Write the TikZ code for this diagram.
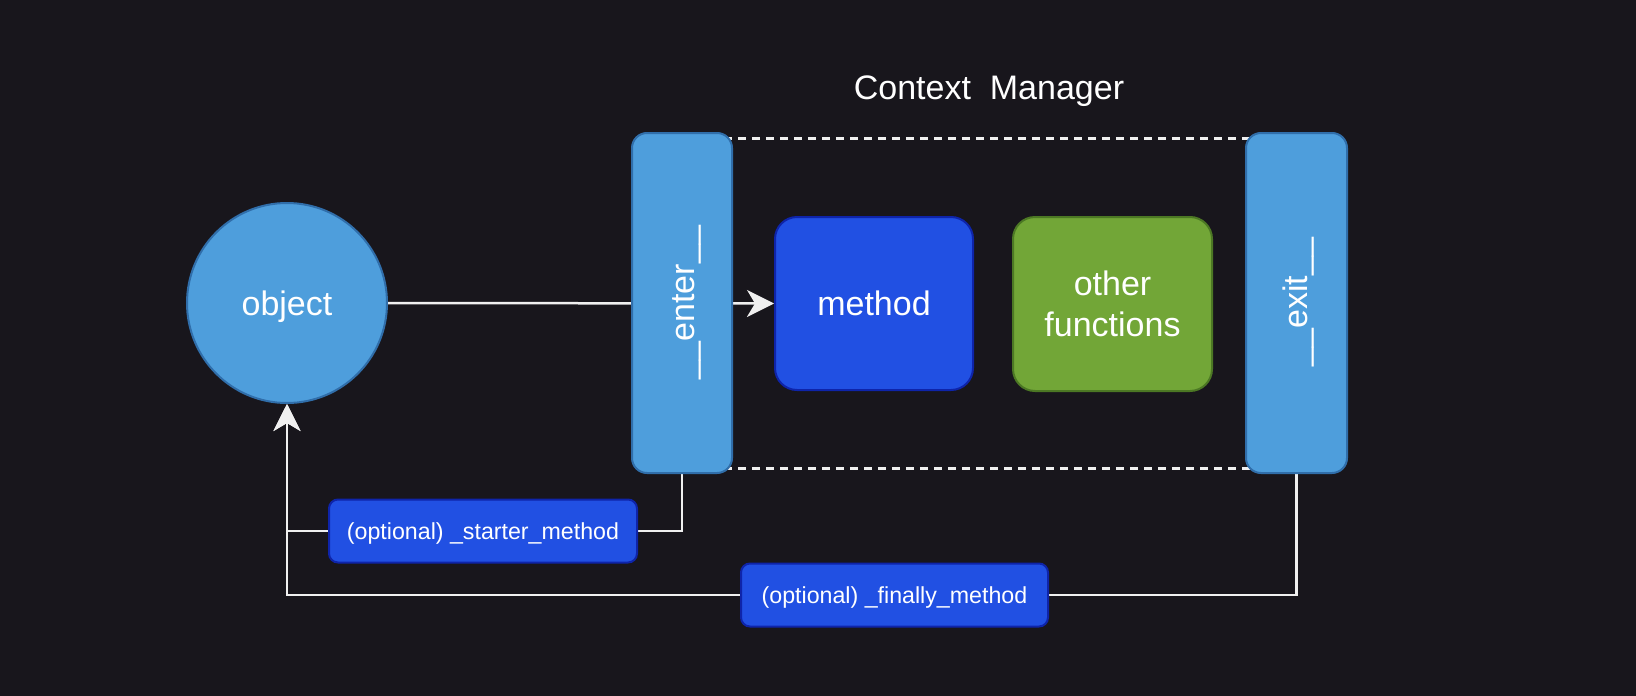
\documentclass[tikz,border=0pt]{standalone}
\usepackage{fontspec}
\setmainfont{Liberation Sans}
\usetikzlibrary{arrows.meta}
\pgfdeclarelayer{bg}
\pgfsetlayers{bg,main}
\newcommand\usc{\symbol{95}}
\definecolor{bgc}{RGB}{24,22,28}
\definecolor{lblue}{RGB}{78,158,220}
\definecolor{lblueb}{RGB}{48,110,170}
\definecolor{mblue}{RGB}{33,80,227}
\definecolor{mblueb}{RGB}{14,36,170}
\definecolor{gfill}{RGB}{114,166,55}
\definecolor{gborder}{RGB}{76,120,36}
\definecolor{wline}{RGB}{240,240,240}
\tikzset{
  bigtext/.style={font=\fontsize{34}{41}\selectfont, text=white, align=center},
  oneline/.style={text height=24.5pt, text depth=0pt},
  lbox/.style={draw=lblueb, fill=lblue, line width=2pt, inner sep=0pt, bigtext},
  mbox/.style={draw=mblueb, fill=mblue, line width=2pt, inner sep=0pt, rounded corners=22pt, bigtext},
  gbox/.style={draw=gborder, fill=gfill, line width=2pt, inner sep=0pt, rounded corners=22pt, bigtext},
  lab/.style={draw=mblueb, fill=mblue, line width=2pt, inner sep=0pt, rounded corners=9pt, text=white,
    font=\fontsize{23.2}{28}\selectfont, minimum height=63pt, text height=16.5pt, text depth=0pt},
  conn/.style={draw=wline, line width=2.5pt},
  tip/.style={-{Stealth[length=27pt, width=27pt, inset=8pt]}},
  dashline/.style={draw=wline, line width=3pt, dash pattern=on 8pt off 6pt}
}
\begin{document}
\begin{tikzpicture}[x=1pt, y=-1pt]
\begin{pgfonlayer}{bg}
\fill[bgc] (0,0) rectangle (1636,696);
\end{pgfonlayer}
\useasboundingbox (0,0) rectangle (1636,696);

\node[bigtext, anchor=base] (title) at (989,99) {Context\ \ Manager};

\node[lbox, oneline, circle, minimum size=200pt] (obj) at (287,303) {object};
\node[lbox, rounded corners=15pt, minimum width=100pt, minimum height=340pt] (enter) at (682,303) {};
\node[bigtext, rotate=90, anchor=base] (entertext) at (694,302.5) {\usc\usc enter\usc\usc};
\node[lbox, rounded corners=15pt, minimum width=101pt, minimum height=340pt] (exit) at (1296.5,303) {};
\node[bigtext, rotate=90, anchor=base] (exittext) at (1307,302) {\usc\usc exit\usc\usc};
\node[mbox, oneline, minimum width=198pt, minimum height=173pt] (method) at (874,303.5) {method};
\node[gbox, minimum width=199pt, minimum height=174pt] (other) at (1112.5,304) {other\\functions};

\node[lab, minimum width=308pt] (starter) at (483,531) {(optional) \usc starter\usc method};
\node[lab, minimum width=307pt] (finally) at (894.5,595) {(optional) \usc finally\usc method};

\begin{pgfonlayer}{bg}
\draw[dashline] (enter.center |- 0,138) -- (exit.center |- 0,138);
\draw[dashline] (enter.center |- 0,468) -- (exit.center |- 0,468);
\draw[conn, tip] (obj.east) -- (method.west);
\draw[conn] (enter.south) |- (starter.east);
\draw[conn, tip] (starter.west) -| (obj.south);
\draw[conn] (exit.south) |- (finally.east);
\draw[conn, tip] (finally.west) -| (obj.south);
\end{pgfonlayer}
\end{tikzpicture}
\end{document}
